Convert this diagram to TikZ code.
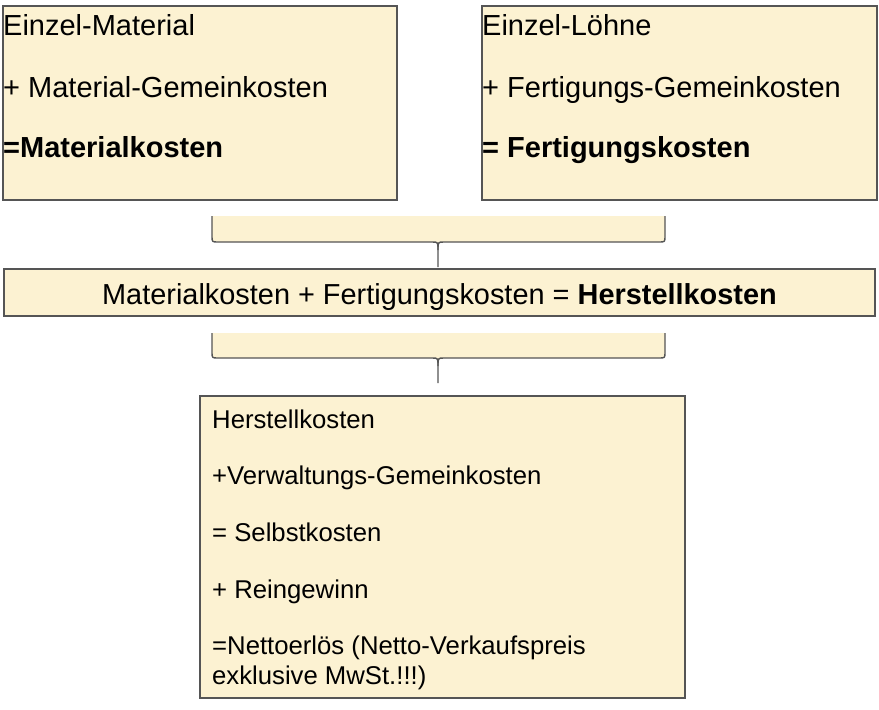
\documentclass[tikz,border=0pt]{standalone}
\usepackage{fontspec}
\setmainfont{Liberation Sans}
\definecolor{boxfill}{HTML}{FCF2D2}
\definecolor{boxline}{HTML}{555555}
\tikzset{
  box/.style={draw=boxline, fill=boxfill, line width=1.4pt, inner sep=0pt},
  big/.style={anchor=base west, inner sep=0pt, font=\fontsize{29}{35}\selectfont},
  mid/.style={anchor=base, inner sep=0pt, font=\fontsize{28.9}{34}\selectfont},
  small/.style={anchor=base west, inner sep=0pt, font=\fontsize{25.7}{30}\selectfont},
  bracefill/.style={fill=boxfill, draw=none},
  bracestroke/.style={draw=boxline, line width=1.4pt, line join=round}
}
\begin{document}
\begin{tikzpicture}[x=1pt,y=-1pt]
\useasboundingbox (0,0) rectangle (879,710);
% top boxes
\draw[box] (3,6) rectangle (397,200);
\node[big] (t1) at (3,35) {Einzel-Material};
\node[big] (t2) at (3,97) {+ Material-Gemeinkosten};
\node[big] (t3) at (3,157) {\bfseries =Materialkosten};
\draw[box] (482,6) rectangle (877,200);
\node[big] (u1) at (482,35) {Einzel-Löhne};
\node[big] (u2) at (482,97) {+ Fertigungs-Gemeinkosten};
\node[big] (u3) at (482,157) {\bfseries = Fertigungskosten};
% brace 1
\fill[bracefill] (212,216) -- (212,236) .. controls (212,242) .. (218,242) -- (432,242) .. controls (438,242) .. (438,250) .. controls (438,242) .. (444,242) -- (659,242) .. controls (665,242) .. (665,236) -- (665,216) -- cycle;
\draw[bracestroke] (212,216) -- (212,236) .. controls (212,242) .. (218,242) -- (432,242) .. controls (438,242) .. (438,250) -- (438,267);
\draw[bracestroke] (665,216) -- (665,236) .. controls (665,242) .. (659,242) -- (444,242) .. controls (438,242) .. (438,250);
% middle box
\draw[box] (4,269) rectangle (875,316);
\node[mid] (m) at (439.5,304) {Materialkosten + Fertigungskosten = \textbf{Herstellkosten}};
% brace 2
\fill[bracefill] (212,333) -- (212,352) .. controls (212,358) .. (218,358) -- (432,358) .. controls (438,358) .. (438,366) .. controls (438,358) .. (444,358) -- (659,358) .. controls (665,358) .. (665,352) -- (665,333) -- cycle;
\draw[bracestroke] (212,333) -- (212,352) .. controls (212,358) .. (218,358) -- (432,358) .. controls (438,358) .. (438,366) -- (438,383);
\draw[bracestroke] (665,333) -- (665,352) .. controls (665,358) .. (659,358) -- (444,358) .. controls (438,358) .. (438,366);
% bottom box
\draw[box] (200,396) rectangle (685,698);
\node[small] (s1) at (212,428) {Herstellkosten};
\node[small] (s2) at (212,484) {+Verwaltungs-Gemeinkosten};
\node[small] (s3) at (212,541) {= Selbstkosten};
\node[small] (s4) at (212,598) {+ Reingewinn};
\node[small] (s5) at (212,654) {=Nettoerlös (Netto-Verkaufspreis};
\node[small] (s6) at (212,684) {exklusive MwSt.!!!)};
\end{tikzpicture}
\end{document}
